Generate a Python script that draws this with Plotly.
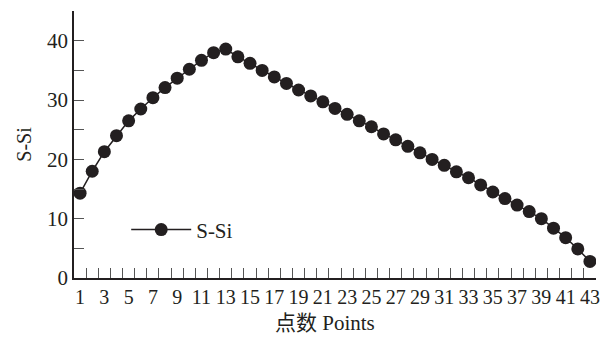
import plotly.graph_objects as go

points = list(range(1, 44))
s_si = [14.3, 18.0, 21.3, 24.0, 26.5, 28.5, 30.4, 32.1, 33.7, 35.2,
        36.7, 38.0, 38.6, 37.3, 36.2, 35.0, 33.9, 32.8, 31.7, 30.7,
        29.7, 28.6, 27.6, 26.5, 25.5, 24.3, 23.3, 22.2, 21.1, 20.0,
        19.0, 17.9, 16.9, 15.7, 14.5, 13.4, 12.3, 11.2, 10.0, 8.4,
        6.8, 4.9, 2.8]
x_tick_vals = list(range(1, 44, 2))
x_tick_text = [str(v) for v in x_tick_vals]
x_minor_vals = [v + 0.5 for v in range(0, 44)]
series_name = "S-Si"
x_title = "点数 Points"
y_title = "S-Si"

dark = "#231f20"
serif = "Liberation Serif, Times New Roman, serif"
serif_cjk = "Liberation Serif, Times New Roman, Noto Sans CJK SC, serif"

fig = go.Figure()
fig.add_trace(go.Scatter(
    x=points, y=s_si, mode="lines+markers", name=series_name,
    line=dict(color=dark, width=1.5),
    marker=dict(color=dark, size=13),
))

fig.update_layout(
    width=601, height=338,
    margin=dict(l=74, r=5, t=11, b=60, autoexpand=False),
    plot_bgcolor="white", paper_bgcolor="white",
    font=dict(family=serif, size=20, color=dark),
    showlegend=True,
    legend=dict(x=0.1, y=0.18, xanchor="left", yanchor="middle",
                bgcolor="rgba(0,0,0,0)", itemwidth=60,
                font=dict(size=21, family=serif, color=dark)),
    annotations=[dict(text=x_title, xref="paper", yref="paper",
                      x=0.481, y=-0.17, xanchor="center", yanchor="middle",
                      showarrow=False,
                      font=dict(size=21, family=serif_cjk, color=dark))],
)
fig.update_xaxes(
    range=[0.5, 43.5], showgrid=False, zeroline=False, automargin=False,
    showline=True, linecolor=dark, linewidth=1.5,
    tickmode="array", tickvals=x_tick_vals, ticktext=x_tick_text,
    ticks="inside", ticklen=0, tickwidth=0,
    minor=dict(tickmode="array", tickvals=x_minor_vals, ticks="inside",
               ticklen=10, tickcolor="#555", tickwidth=1, showgrid=False),
    tickfont=dict(size=20, family=serif, color=dark),
)
fig.update_yaxes(
    range=[0, 45.02], showgrid=False, zeroline=False, automargin=False,
    showline=True, linecolor=dark, linewidth=1.5,
    tickmode="linear", tick0=0, dtick=10,
    ticks="inside", ticklen=10, tickcolor="#555", tickwidth=1,
    minor=dict(tick0=0, dtick=5, ticks="inside", ticklen=10,
               tickcolor="#555", tickwidth=1, showgrid=False),
    title=dict(text=y_title, font=dict(size=20, family=serif, color=dark),
               standoff=10),
    tickfont=dict(size=21, family=serif, color=dark),
)

fig.write_html(
    "out.html",
    config={"displayModeBar": False},
    post_script="document.body.style.margin='0';document.body.style.overflow='hidden';",
)
